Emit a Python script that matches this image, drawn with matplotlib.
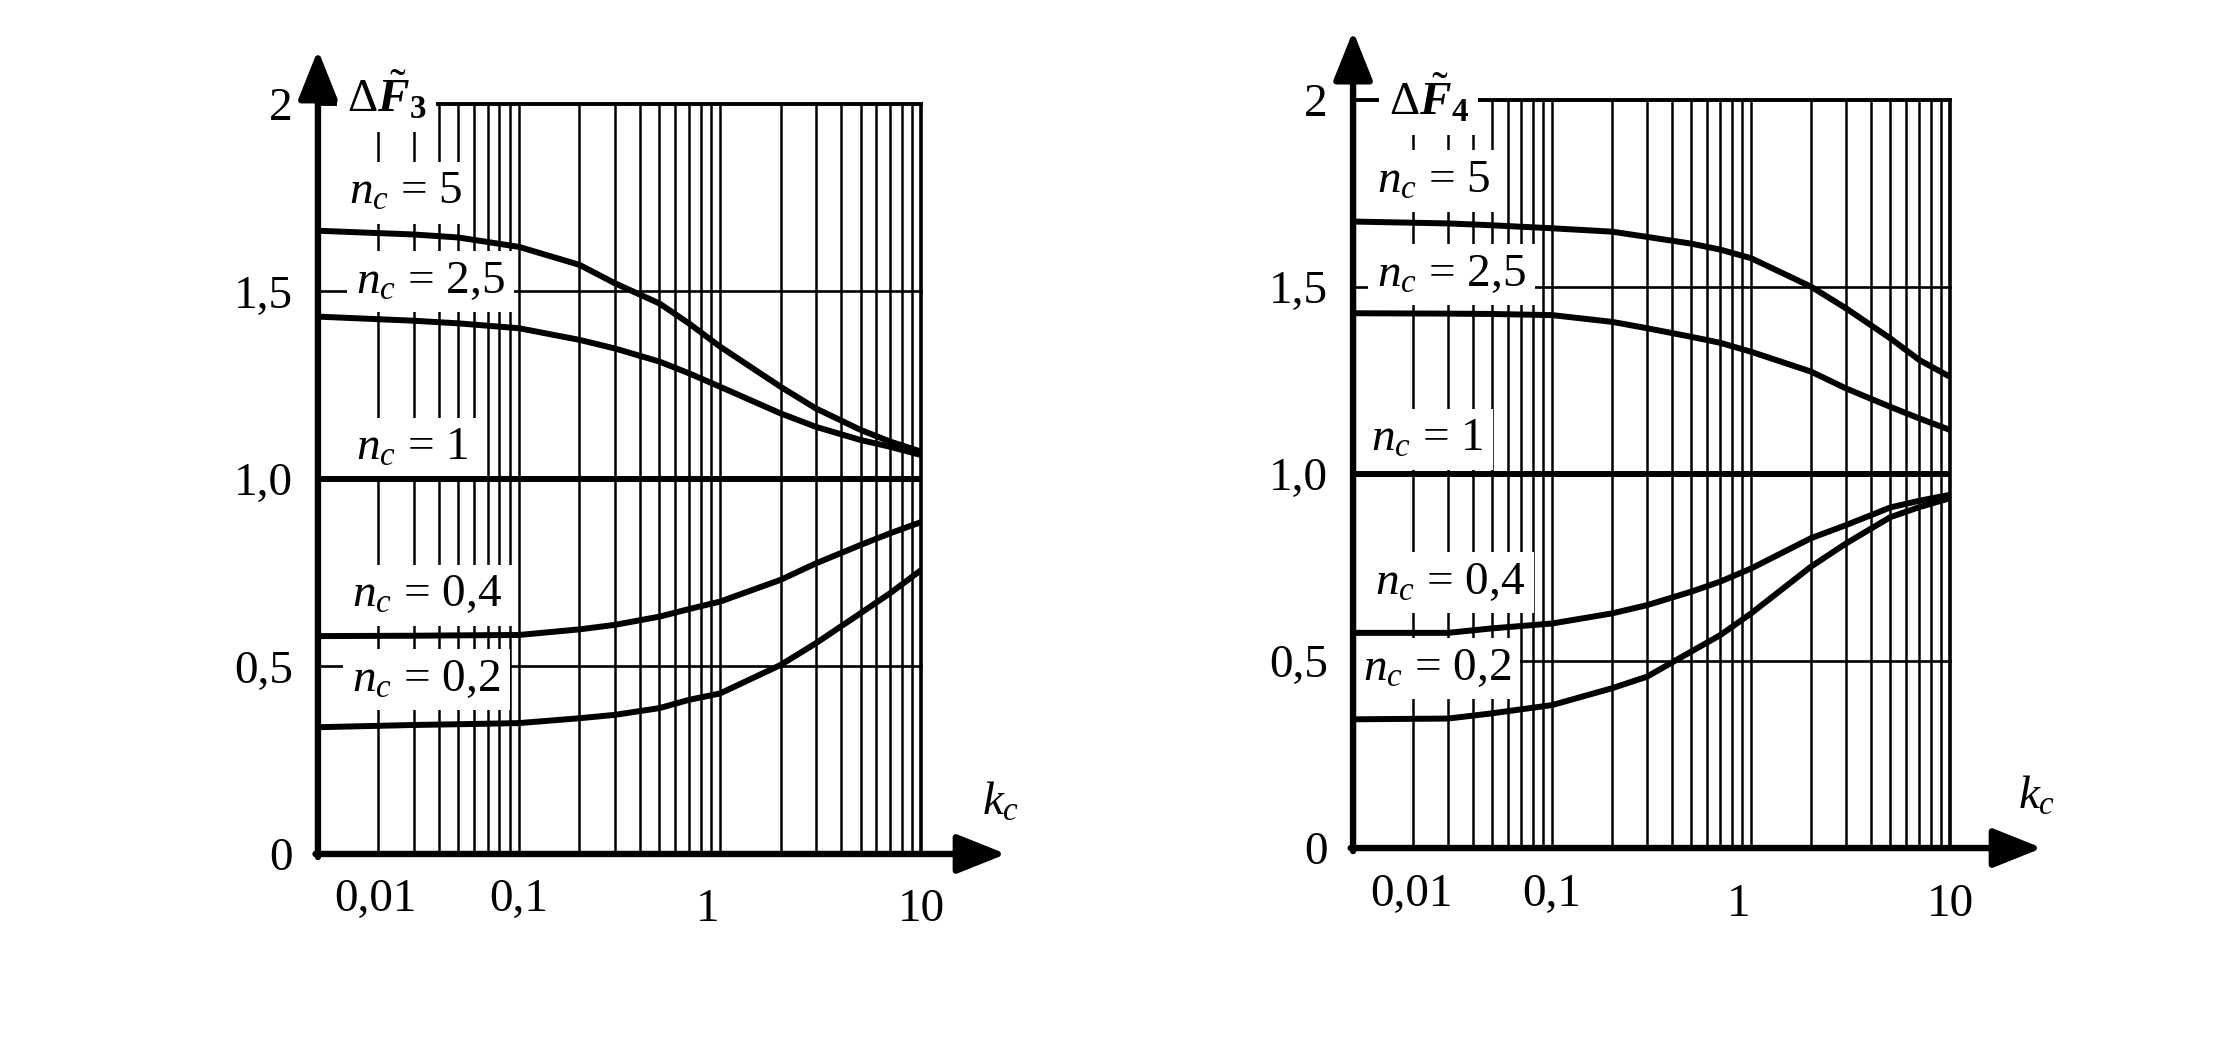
import matplotlib
matplotlib.use("Agg")
import matplotlib.pyplot as plt
import matplotlib.transforms as mtransforms
from matplotlib.ticker import NullLocator

plt.rcParams['font.family'] = ['Liberation Serif', 'DejaVu Serif']
plt.rcParams['mathtext.fontset'] = 'custom'
plt.rcParams['mathtext.rm'] = 'Liberation Serif'
plt.rcParams['mathtext.it'] = 'Liberation Serif:italic'
plt.rcParams['mathtext.bf'] = 'Liberation Serif:bold'
plt.rcParams['mathtext.bfit'] = 'Liberation Serif:bold:italic'

# values (k_c on log axis)
kc = [0.01, 0.03, 0.05, 0.1, 0.2, 0.3, 0.5, 0.7, 1, 2, 3, 5, 7, 10]
kc_flat = [0.01, 10]

f3_n5 = [1.662, 1.652, 1.644, 1.619, 1.571, 1.522, 1.468, 1.415, 1.353, 1.246, 1.188, 1.131, 1.10, 1.073]
f3_n25 = [1.433, 1.422, 1.415, 1.402, 1.371, 1.348, 1.313, 1.282, 1.246, 1.175, 1.139, 1.104, 1.086, 1.064]
f3_n1 = [1.0, 1.0]
f3_n04 = [0.581, 0.582, 0.583, 0.584, 0.599, 0.611, 0.633, 0.653, 0.673, 0.731, 0.775, 0.824, 0.855, 0.885]
f3_n02 = [0.338, 0.344, 0.346, 0.349, 0.362, 0.371, 0.389, 0.411, 0.428, 0.504, 0.562, 0.642, 0.695, 0.757]

f4_n5 = [1.674, 1.669, 1.664, 1.656, 1.647, 1.633, 1.615, 1.599, 1.576, 1.50, 1.442, 1.362, 1.304, 1.259]
f4_n25 = [1.429, 1.428, 1.427, 1.424, 1.406, 1.389, 1.366, 1.35, 1.326, 1.273, 1.228, 1.179, 1.148, 1.117]
f4_n1 = [1.0, 1.0]
f4_n04 = [0.575, 0.575, 0.587, 0.600, 0.627, 0.649, 0.685, 0.712, 0.747, 0.828, 0.863, 0.91, 0.928, 0.944]
f4_n02 = [0.344, 0.346, 0.36, 0.382, 0.427, 0.458, 0.525, 0.569, 0.627, 0.752, 0.814, 0.884, 0.911, 0.935]

nc_labels = [r'$n_c$ = 5', r'$n_c$ = 2,5', r'$n_c$ = 1', r'$n_c$ = 0,4', r'$n_c$ = 0,2']
xtick_vals = [0.01, 0.1, 1, 10]
xtick_labels = ['0,01', '0,1', '1', '10']
ytick_vals = [0, 0.5, 1.0, 1.5, 2]
ytick_labels = ['0', '0,5', '1,0', '1,5', '2']

FS = 34
box = dict(boxstyle='square,pad=0.2', fc='white', ec='none')


def draw_panel(ax, curves, title, title_pos, label_pos, ytip, xtip):
    ax.set_xscale('log')
    ax.set_xlim(0.01, 10)
    ax.set_ylim(0, 2)
    for s in ax.spines.values():
        s.set_visible(False)

    # grid
    for e in (-2, -1, 0):
        for m in range(1, 10):
            x = m * 10.0 ** e
            if x > 0.01:
                ax.axvline(x, 0, 1, color='k', lw=1.8, zorder=1, clip_on=False)
    ax.axvline(10, 0, 1, color='k', lw=2.6, zorder=1, clip_on=False)
    for y in (0.5, 1.5):
        ax.axhline(y, color='k', lw=1.9, zorder=1, clip_on=False)
    ax.axhline(2, color='k', lw=2.8, zorder=1, clip_on=False)

    # curves
    for (xs, ys) in curves:
        ax.plot(xs, ys, color='k', lw=4.3, zorder=4, solid_capstyle='butt')

    # axes with arrows
    ax.annotate('', xy=(0, ytip), xytext=(0, -0.004), xycoords='axes fraction',
                arrowprops=dict(arrowstyle='-|>,head_length=1.0,head_width=0.4',
                                mutation_scale=30, lw=4.6, color='k',
                                shrinkA=0, shrinkB=0), zorder=6)
    ax.annotate('', xy=(xtip, 0), xytext=(-0.004, 0), xycoords='axes fraction',
                arrowprops=dict(arrowstyle='-|>,head_length=1.0,head_width=0.4',
                                mutation_scale=30, lw=4.6, color='k',
                                shrinkA=0, shrinkB=0), zorder=6)

    # ticks
    ax.xaxis.set_minor_locator(NullLocator())
    ax.set_xticks(xtick_vals, labels=xtick_labels)
    ax.set_yticks(ytick_vals, labels=ytick_labels)
    ax.tick_params(axis='both', length=0, labelsize=FS)
    ax.tick_params(axis='x', pad=18)
    ax.tick_params(axis='y', pad=18)
    shifts = [(0.58, 0), (0, 0), (-0.12, -0.1), (0, -0.1)]
    for lab, (dx, dy) in zip(ax.get_xticklabels(), shifts):
        lab.set_transform(lab.get_transform() +
                          mtransforms.ScaledTranslation(dx, dy, ax.figure.dpi_scale_trans))

    # labels
    ax.text(title_pos[0], title_pos[1], title, fontsize=FS, ha='left', va='baseline',
            bbox=box, zorder=3)
    for txt, (x, y) in zip(nc_labels, label_pos):
        ax.text(x, y, txt, fontsize=FS, ha='left', va='baseline', bbox=box, zorder=3)
    ax.text(xtip - 0.04, 0.053, r'$k_c$', transform=ax.transAxes, fontsize=FS,
            ha='left', va='baseline')


fig = plt.figure(figsize=(22.28, 10.59), dpi=100)
ax_l = fig.add_axes([0.1427, 0.1936, 0.2707, 0.7082])
ax_r = fig.add_axes([0.6073, 0.1992, 0.2680, 0.7068])

draw_panel(ax_l,
           [(kc, f3_n5), (kc, f3_n25), (kc_flat, f3_n1), (kc, f3_n04), (kc, f3_n02)],
           r'$\Delta\tilde{\mathbfit{F}}_{\mathbf{3}}$', (0.0139, 1.978),
           [(0.0143, 1.733), (0.0155, 1.497), (0.0155, 1.051), (0.0148, 0.66), (0.0148, 0.435)],
           1.072, 1.141)
draw_panel(ax_r,
           [(kc, f4_n5), (kc, f4_n25), (kc_flat, f4_n1), (kc, f4_n04), (kc, f4_n02)],
           r'$\Delta\tilde{\mathbfit{F}}_{\mathbf{4}}$', (0.0151, 1.957),
           [(0.0132, 1.752), (0.0132, 1.503), (0.0123, 1.062), (0.0129, 0.679), (0.0112, 0.45)],
           1.0915, 1.154)

fig.savefig('out.png', dpi=100, facecolor='white')
